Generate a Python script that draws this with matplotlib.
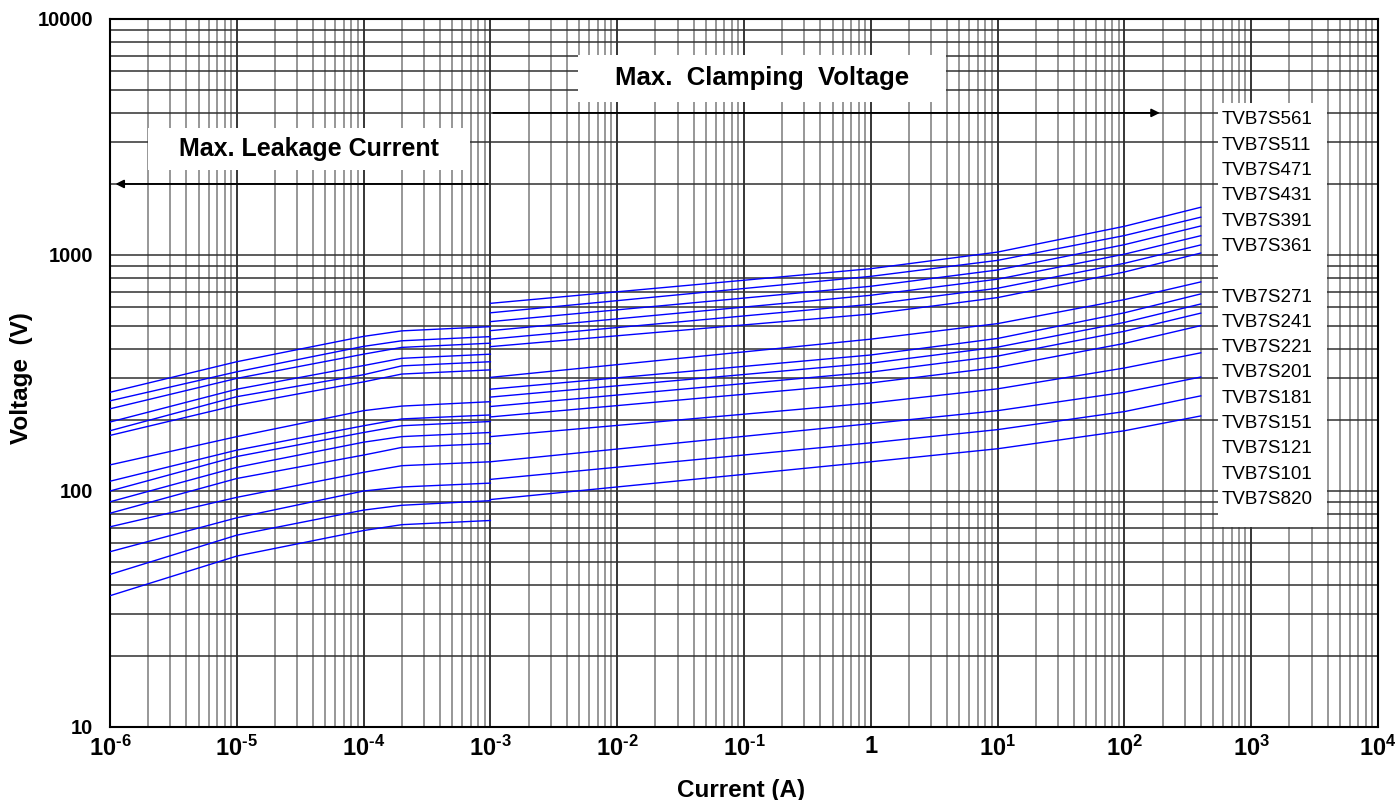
import numpy as np
import matplotlib
matplotlib.use('Agg')
import matplotlib.pyplot as plt
from matplotlib.ticker import FixedLocator, LogLocator, NullFormatter
from matplotlib.patches import Rectangle

plt.rcParams['font.family'] = ['Liberation Sans', 'DejaVu Sans']
plt.rcParams['mathtext.fontset'] = 'custom'
plt.rcParams['mathtext.rm'] = 'Liberation Sans:bold'
plt.rcParams['mathtext.bf'] = 'Liberation Sans:bold'
plt.rcParams['mathtext.it'] = 'Liberation Sans:bold'

#Device names, top to bottom
devices = ['TVB7S561', 'TVB7S511', 'TVB7S471', 'TVB7S431', 'TVB7S391', 'TVB7S361',
           'TVB7S271', 'TVB7S241', 'TVB7S221', 'TVB7S201', 'TVB7S181', 'TVB7S151',
           'TVB7S121', 'TVB7S101', 'TVB7S820']
#Slot of each name in the label column (gap after 361)
label_slots = [0, 1, 2, 3, 4, 5, 7, 8, 9, 10, 11, 12, 13, 14, 15]

#Max. leakage current curves (A, V)
leak_current = [1e-6, 1e-5, 1e-4, 2e-4, 1e-3]
leak_voltage = [
    [262, 353, 452, 477, 497],
    [241, 320, 410, 433, 451],
    [223, 300, 380, 406, 423],
    [196, 270, 340, 365, 380],
    [180, 251, 311, 339, 353],
    [172, 231, 290, 313, 326],
    [129, 170, 219, 229, 239],
    [110, 149, 189, 202, 210],
    [100, 140, 177, 189, 197],
    [90, 126, 161, 170, 177],
    [80.5, 113, 142, 153, 159],
    [70.5, 94, 120, 128, 133],
    [55.3, 77, 100, 104, 108],
    [44.3, 65, 83, 87, 91],
    [36, 53, 68, 72, 75],
]

#Max. clamping voltage curves (A, V)
clamp_current = [1e-3, 1, 10, 100, 400]
clamp_voltage = [
    [624, 875, 1029, 1323, 1593],
    [569, 812, 949, 1209, 1446],
    [522, 737, 864, 1106, 1327],
    [478, 675, 790, 1008, 1207],
    [440, 618, 723, 922, 1103],
    [409, 562, 660, 847, 1019],
    [303, 440, 512, 647, 769],
    [270, 377, 443, 569, 684],
    [250, 348, 407, 518, 620],
    [228, 319, 373, 475, 567],
    [206, 287, 334, 422, 502],
    [170, 236, 271, 332, 385],
    [133, 193, 219, 262, 304],
    [112, 160, 182, 217, 253],
    [92, 133, 151, 180, 208],
]

x_ticks = [1e-6, 1e-5, 1e-4, 1e-3, 1e-2, 1e-1, 1, 1e1, 1e2, 1e3, 1e4]
x_ticklabels = [r'$10^{\text{-}6}$', r'$10^{\text{-}5}$', r'$10^{\text{-}4}$',
                r'$10^{\text{-}3}$', r'$10^{\text{-}2}$', r'$10^{\text{-}1}$', '1',
                r'$10^{1}$', r'$10^{2}$', r'$10^{3}$', r'$10^{4}$']
y_ticks = [10, 100, 1000, 10000]
y_ticklabels = ['10', '100', '1000', '10000']

fig = plt.figure(figsize=(13.95, 8), dpi=100)
ax = fig.add_axes([110/1395, 1-727/800, 1268/1395, 708/800])
ax.set_xscale('log')
ax.set_yscale('log')
ax.set_xlim(1e-6, 1e4)
ax.set_ylim(10, 1e4)

ax.xaxis.set_major_locator(FixedLocator(x_ticks))
ax.xaxis.set_minor_locator(LogLocator(base=10, subs=np.arange(2, 10), numticks=30))
ax.xaxis.set_minor_formatter(NullFormatter())
ax.yaxis.set_major_locator(FixedLocator(y_ticks))
ax.yaxis.set_minor_locator(LogLocator(base=10, subs=np.arange(2, 10), numticks=30))
ax.yaxis.set_minor_formatter(NullFormatter())
ax.set_xticklabels(x_ticklabels, fontweight='bold', fontsize=17)
ax.set_yticklabels(y_ticklabels, fontweight='bold', fontsize=14.5)
ax.tick_params(which='both', length=0)
ax.tick_params(axis='x', pad=6)
ax.tick_params(axis='y', pad=12)

ax.set_axisbelow(True)
ax.grid(which='major', axis='x', color='black', lw=1.1)
ax.grid(which='minor', axis='x', color='#7a7a7a', lw=1.1)
ax.grid(which='both', axis='y', color='#303030', lw=1.1)
for s in ax.spines.values():
    s.set_linewidth(1.5)

#Curves
for v in leak_voltage:
    ax.plot(leak_current, v, color='#0000ff', lw=1.0, zorder=3)
for v in clamp_voltage:
    ax.plot(clamp_current, v, color='#0000ff', lw=1.0, zorder=3)

#White boxes over the grid
ax.add_patch(Rectangle((0.874, 0.2825), 0.086, 0.5985, transform=ax.transAxes,
                       facecolor='white', edgecolor='none', zorder=1))
ax.add_patch(Rectangle((0.369, 0.883), 0.290, 0.066, transform=ax.transAxes,
                       facecolor='white', edgecolor='none', zorder=1))
ax.add_patch(Rectangle((0.030, 0.787), 0.254, 0.059, transform=ax.transAxes,
                       facecolor='white', edgecolor='none', zorder=1))

#Device names
for name, slot in zip(devices, label_slots):
    ypix = 120 + 25.3 * slot
    ax.text(0.877, (727 - ypix) / 708, name, transform=ax.transAxes,
            fontsize=13.5, va='center', ha='left', zorder=4)

#Annotations and arrows
ax.text(0.514, 0.916, 'Max.  Clamping  Voltage', transform=ax.transAxes,
        fontsize=18.5, fontweight='bold', ha='center', va='center', zorder=4)
ax.text(0.157, 0.816, 'Max. Leakage Current', transform=ax.transAxes,
        fontsize=18, fontweight='bold', ha='center', va='center', zorder=4)
ax.annotate('', xy=(200, 4000), xytext=(1e-3, 4000),
            arrowprops=dict(arrowstyle='-|>', color='black', lw=1.3, mutation_scale=12),
            zorder=4)
ax.annotate('', xy=(1.05e-6, 2000), xytext=(1e-3, 2000),
            arrowprops=dict(arrowstyle='-|>', color='black', lw=1.3, mutation_scale=12),
            zorder=4)

ax.set_xlabel('Current (A)', fontsize=17.5, fontweight='bold', va='top')
ax.xaxis.set_label_coords(0.498, -0.073)
ax.set_ylabel('Voltage  (V)', fontsize=17.5, fontweight='bold')
ax.yaxis.set_label_coords(-0.061, 0.493)

fig.savefig('out.png', dpi=100)
